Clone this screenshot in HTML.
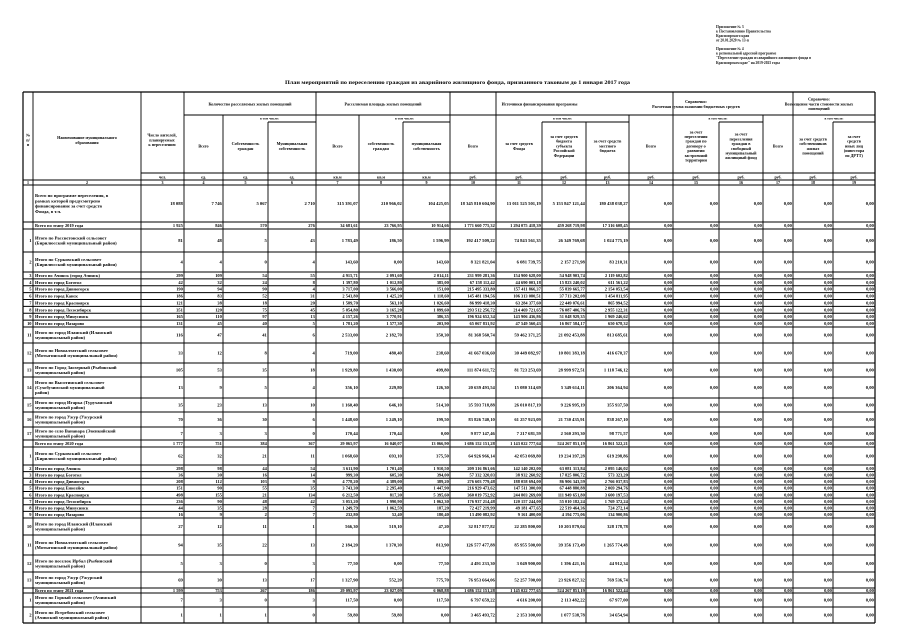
<!DOCTYPE html>
<html><head><meta charset="utf-8"><style>
html,body{margin:0;padding:0;background:#fff;}
svg{display:block;font-family:"Liberation Serif","DejaVu Serif",serif;}
</style></head><body>
<svg id="s" width="905" height="639" viewBox="0 0 905 639" xmlns="http://www.w3.org/2000/svg">
<rect width="905" height="639" fill="#fff"/>
<g font-size="3.6" fill="#111" font-weight="bold">
<text x="716" y="28">Приложение № 3</text>
<text x="716" y="32.5">к Постановлению Правительства</text>
<text x="716" y="37">Красноярского края</text>
<text x="716" y="41.5">от 20.01.2020 № 13-п</text>
<text x="716" y="50">Приложение № 4</text>
<text x="716" y="54.5">к региональной адресной программе</text>
<text x="716" y="59">"Переселение граждан из аварийного жилищного фонда в</text>
<text x="716" y="64">Красноярском крае" на 2019-2025 годы</text>
</g>
<text x="285" y="84" font-size="5.4" font-weight="bold" textLength="345" lengthAdjust="spacingAndGlyphs" fill="#000">План мероприятий по переселению граждан из аварийного жилищного фонда, признанного таковым до 1 января 2017 года</text>
<g id="grid" stroke="#000" stroke-width="0.9"></g>
<g id="txt" fill="#000"></g>
</svg>
<script>
(function(){
var X=[23,33,141,184,223,268,316,359,403,450,496,542,586,629,673,719,763,793,833,875];
var g=document.getElementById('grid'),t=document.getElementById('txt');
var NS='http://www.w3.org/2000/svg';
function L(x1,y1,x2,y2,w){var e=document.createElementNS(NS,'line');e.setAttribute('x1',x1);e.setAttribute('y1',y1);e.setAttribute('x2',x2);e.setAttribute('y2',y2);if(w)e.setAttribute('stroke-width',w);g.appendChild(e);}
function T(x,y,s,fs,anc,bold){var e=document.createElementNS(NS,'text');e.setAttribute('x',x);e.setAttribute('y',y);e.setAttribute('font-size',fs);if(anc)e.setAttribute('text-anchor',anc);if(bold)e.setAttribute('font-weight','bold');e.textContent=s;t.appendChild(e);}
function M(cx,cy,lines,fs,bold){var lh=fs*1.15;var y0=cy-(lines.length-1)*lh/2+fs*0.35;lines.forEach(function(s,i){T(cx,y0+i*lh,s,fs,'middle',bold);});}
var tp=92,hb=115,tv=122,un=173,nr=180,hd=185;
L(X[0],tp,X[19],tp,1.2);
L(X[3],hb,X[19],hb);
[[4,6],[7,9],[10,13],[14,16],[17,19]].forEach(function(p){L(X[p[0]+1],tv,X[p[1]],tv);});
L(X[2],un,X[19],un);L(X[0],nr,X[19],nr);L(X[0],hd,X[19],hd,1.1);
for(var i=0;i<20;i++){var y1=tp;if([4,5,7,8,11,12,13,15,16,18].indexOf(i)>=0)y1=hb;if([5,8,11,12,15,18].indexOf(i)>=0)y1=tv;L(X[i],y1,X[i],hd,(i==0||i==19)?1.2:0.9);}
var fs=4.1;
M(28,140,['№','п/','п'],fs,1);
M(87,140,['Наименование муниципального','образования'],fs,1);
M(162,140,['Число жителей,','планируемых','к переселению'],fs,1);
M((X[3]+X[6])/2,104,['Количество расселяемых жилых помещений'],fs,1);
M((X[6]+X[9])/2,104,['Расселяемая площадь жилых помещений'],fs,1);
M((X[9]+X[13])/2,104,['Источники финансирования программы'],fs,1);
M((X[13]+X[16])/2,104,['Справочно:','Расчетная сумма экономии бюджетных средств'],fs,1);
M((X[16]+X[19])/2,104,['Справочно:','Возмещение части стоимости жилых','помещений'],fs,1);
[[4,6],[7,9],[10,13],[14,16],[17,19]].forEach(function(p){M((X[p[0]]+X[p[1]])/2,118.5,['в том числе:'],3.4,1);});
var hc={4:['Всего'],5:['Собственность','граждан'],6:['Муниципальная','собственность'],7:['Всего'],8:['собственность','граждан'],9:['муниципальная','собственность'],10:['Всего'],11:['за счет средств','Фонда'],12:['за счет средств','бюджета','субъекта','Российской','Федерации'],13:['за счет средств','местного','бюджета'],14:['Всего'],15:['за счет','переселения','граждан по','договору о','развитии','застроенной','территории'],16:['за счет','переселения','граждан в','свободный','муниципальный','жилищный фонд'],17:['Всего'],18:['за счет средств','собственников','жилых','помещений'],19:['за счет','средств','иных лиц','(инвестора','по ДРТТ)']};
for(var c in hc){c=+c;M((X[c-1]+X[c])/2,146,hc[c],fs,1);}
var units=['','','чел.','ед.','ед.','ед.','кв.м','кв.м','кв.м','руб.','руб.','руб.','руб.','руб.','руб.','руб.','руб.','руб.','руб.'];
for(var c=3;c<=19;c++){T((X[c-1]+X[c])/2,178.5,units[c-1],4,'middle',1);}
for(var c=1;c<=19;c++){T((X[c-1]+X[c])/2,184,String(c),4,'middle',1);}
var Y=[185,222,229,252,272];for(var k=1;k<=8;k++)Y.push(272+k*55/8);
Y=Y.concat([343,363,377,398,412,427,440,447,465]);for(var k=1;k<=8;k++)Y.push(465+k*53/8);
Y=Y.concat([535,555,572,588,593,607,623]);
var R=[
['','Всего по  программе переселения, в|рамках которой предусмотрено|финансирование за счет средств|Фонда, в т.ч.','18 088','7 746','5 067','2 710','315 391,07','210 966,02','104 425,05','18 345 810 604,90','13 011 525 501,19','5 153 847 121,44','180 438 038,27'],
['','Всего по этапу 2019 года','1 925','846','570','276','34 681,61','23 766,95','10 914,66','1 771 660 775,32','1 294 075 418,39','459 268 719,98','17 316 608,45'],
['1','Итого по Рассветовский сельсовет|(Бирилюсский муниципальный район)','81','48','5','43','1 783,49','186,50','1 596,99','192 417 509,22','74 843 561,35','26 349 769,68','1 024 775,19'],
['2','Итого по Сурковский сельсовет|(Бирилюсский муниципальный район)','4','4','0','4','143,60','0,00','143,60','8 321 821,04','6 081 739,75','2 157 271,98','83 210,31'],
['3','Итого по Ачинск (город Ачинск)','299','109','54','55','4 915,71','2 091,60','2 014,11','231 999 281,36','154 900 628,00','54 948 903,74','2 119 602,82'],
['4','Итого по город Боготол','42','32','24','8','1 397,80','1 012,80','385,00','67 158 112,42','44 690 003,18','15 823 240,02','611 561,22'],
['5','Итого по город Дивногорск','190','94','90','4','3 717,00','3 566,00','151,00','215 495 333,80','157 411 866,37','55 839 665,77','2 154 053,54'],
['6','Итого по город Канск','186','83','52','31','2 543,80','1 425,20','1 118,60','145 481 194,56','106 313 080,51','37 713 202,08','1 454 811,95'],
['7','Итого по город Красноярск','121','38','18','20','1 589,70','563,10','1 026,60','86 999 418,30','63 284 377,60','22 449 076,61','865 994,52'],
['8','Итого по город Лесосибирск','351','120','75','45','5 054,80','3 165,20','1 899,60','293 512 256,72','214 469 721,65','76 087 406,76','2 955 122,31'],
['9','Итого по город Минусинск','165','110','97','13','4 157,26','3 770,91','386,35','196 924 652,34','143 906 436,86','51 048 929,35','1 969 246,62'],
['10','Итого по город Назарово','131','45','40','5','1 781,20','1 577,30','203,90','65 067 831,92','47 549 560,43','16 867 584,17','650 678,32'],
['11','Итого по город Иланский (Иланский|муниципальный район)','116','47','41','6','2 533,00','2 182,70','350,30','81 368 560,74','59 462 371,25','21 092 453,88','813 685,61'],
['12','Итого по Новоалтатский сельсовет|(Мотыгинский муниципальный район)','33','12','8','4','719,00','480,40','238,60','41 667 036,60','30 449 082,97','10 801 383,18','416 670,37'],
['13','Итого по Город Заозерный (Рыбинский|муниципальный район)','105','53','35','18','1 929,80','1 430,00','499,80','111 874 611,72','81 723 253,69','28 999 972,51','1 118 746,12'],
['14','Итого по Высотинский сельсовет|(Сухобузимский муниципальный|район)','13','9','5','4','356,10','229,80','126,30','20 639 493,54','15 080 314,69','5 349 614,11','206 364,94'],
['15','Итого по город Игарка (Туруханский|муниципальный район)','35','23','13','10','1 160,40','646,10','514,30','35 593 718,88','26 010 817,19','9 226 995,19','355 937,50'],
['16','Итого по город Ужур (Ужурский|муниципальный район)','70','36','30','6','1 448,60','1 249,10','199,50','83 826 740,10','61 257 923,09','21 730 435,91','838 267,10'],
['17','Итого по село Ванавара (Эвенкийский|муниципальный район)','7','3','3','0','170,44','170,44','0,00','9 877 147,46','7 217 681,59','2 560 293,30','98 771,57'],
['','Всего по этапу 2020 года','1 777','751','384','367','29 065,97','16 040,07','13 066,90','1 686 152 151,28','1 143 022 777,64','524 267 851,19','16 861 522,21'],
['1','Итого по Сурковский сельсовет|(Бирилюсский муниципальный район)','62','32','21','11','1 068,60','693,10','375,50','64 926 966,14','42 053 069,80','19 234 397,28','619 298,86'],
['2','Итого по город Ачинск','298','98','44','54','3 611,90','1 701,40','1 910,50','209 316 861,66','142 140 202,00','63 081 313,84','2 095 146,02'],
['3','Итого по город Боготол','36','30','16','14','999,30','605,30','394,00','57 332 320,03','38 932 260,92','17 825 806,72','573 323,20'],
['4','Итого по город Дивногорск','208','112','103','9','4 778,20','4 389,00','389,20','276 603 779,48','188 058 694,00','86 906 343,59','2 766 037,83'],
['5','Итого по город Енисейск','151','90','55','35','3 743,30','2 295,40','1 447,90','216 929 473,62','147 511 300,00','67 448 880,88','2 069 294,76'],
['6','Итого по город Красноярск','498','155','21','134','6 212,50','817,30','5 395,60','360 019 752,92','244 803 269,00','111 949 651,80','3 600 197,53'],
['7','Итого по город Лесосибирск','236','90','48','42','3 053,20','1 990,90','1 062,30','176 937 214,48','120 157 244,00','55 010 182,24','1 769 372,24'],
['8','Итого по город Минусинск','44','35','28','7','1 249,79','1 062,59','187,20','72 427 219,99','49 181 477,65','22 519 464,36','724 272,14'],
['9','Итого по город Назарово','16','9','2','7','232,80','52,40','180,40','13 490 082,92','9 161 400,00','4 194 775,06','134 900,86'],
['10','Итого по город Иланский (Иланский|муниципальный район)','27','12','11','1','566,30','519,10','47,20','32 817 877,82','22 285 800,00','10 203 879,04','328 178,78'],
['11','Итого по Новоалтатский сельсовет|(Мотыгинский муниципальный район)','94','35','22','13','2 184,20','1 370,30','813,90','126 577 477,88','85 955 500,00','39 356 173,49','1 265 774,48'],
['12','Итого по поселок Ирбал (Рыбинский|муниципальный район)','5','3','0','3','77,50','0,00','77,50','4 491 233,30','3 049 900,00','1 396 421,16','44 912,34'],
['13','Итого по город Ужур (Ужурский|муниципальный район)','69','30','13','17','1 327,90','552,20','775,70','76 953 664,06','52 257 700,00','23 926 827,32','769 536,74'],
['','Всего по этапу 2021 года','1 599','753','267','186','29 095,97','23 027,09','6 068,88','1 686 152 151,28','1 145 022 777,65','524 267 851,19','16 861 522,44'],
['1','Итого по Горный сельсовет (Ачинский|муниципальный район)','7','3','0','3','117,50','0,00','117,50','6 797 659,22','4 616 200,00','2 113 482,22','67 977,00'],
['2','Итого по Ястребовский сельсовет|(Ачинский муниципальный район)','1','1','1','0','59,80','59,80','0,00','3 465 493,72','2 353 300,00','1 077 538,78','34 654,94']
];
for(var r=0;r<R.length;r++){
 var y1=Y[r],y2=Y[r+1],cy=(y1+y2)/2,row=R[r];
 L(X[0],y2,X[19],y2,r==R.length-1?1.2:1.0);
 for(var i=0;i<20;i++)L(X[i],y1,X[i],y2,(i==0||i==19)?1.2:0.9);
 var h=y2-y1,f=h<8?4.4:4.6;
 if(row[0])T(31.5,cy+1.5,row[0],f,'end',1);
 var nl=row[1].split('|');var lh=h<8?0:5.2;
 var y0=cy-(nl.length-1)*lh/2+1.5;
 nl.forEach(function(s,j){T(35,y0+j*lh,s,f,null,1);});
 for(var c=3;c<=19;c++){var v=c<=13?row[c-1]:'0,00';T(X[c]-1.2,cy+1.5,v,f,'end',1);}
}
})();
</script>
</body></html>
